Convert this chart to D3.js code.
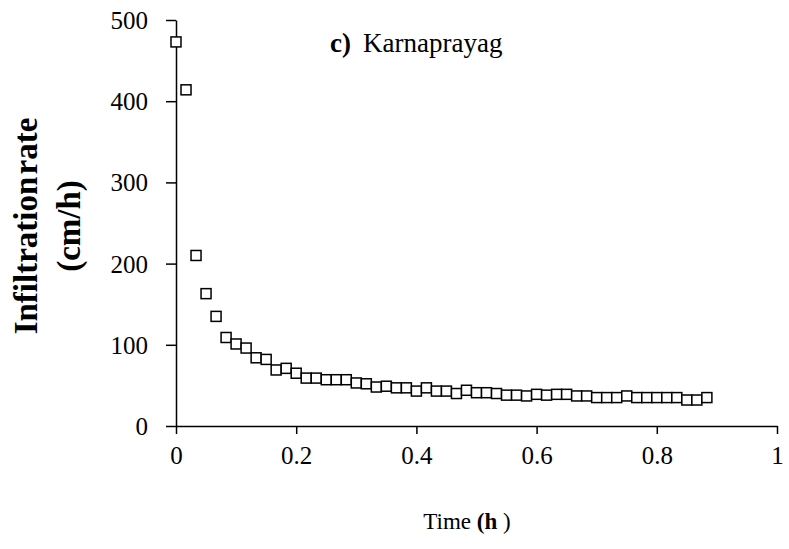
<!DOCTYPE html>
<html lang="en">
<head>
<meta charset="UTF-8">
<script src="https://d3js.org/d3.v7.min.js"></script>
<style>
  body { margin: 0; background: #fff; }
  svg text { font-family: "Liberation Serif", "Times New Roman", serif; fill: #000; }
  .axis path, .axis line { stroke: #000; stroke-width: 1.5; }
</style>
</head>
<body>
<div id="chart"></div>
<script>
  // readings taken once a minute (hours)
  const timeMin = d3.range(0, 54);
  const rate = [473, 414, 210, 163, 135, 109, 101, 96, 84, 82,
                69, 71, 65, 59, 59, 57, 57, 57, 53, 52,
                48, 49, 47, 47, 43, 47, 43, 43, 40, 44,
                41, 41, 40, 38, 38, 37, 39, 38, 39, 39,
                37, 37, 35, 35, 35, 37, 35, 35, 35, 35,
                35, 32, 32, 35];
  const xTicks = [0, 0.2, 0.4, 0.6, 0.8, 1];
  const yTicks = [0, 100, 200, 300, 400, 500];

  const width = 789, height = 549;
  const svg = d3.select("#chart").append("svg")
    .attr("width", width).attr("height", height);

  const x = d3.scaleLinear().domain([0, 1]).range([176, 777]);
  const y = d3.scaleLinear().domain([0, 500]).range([426, 20]);

  const xAxis = svg.append("g").attr("class", "axis")
    .attr("transform", `translate(0,${y(0)})`)
    .call(d3.axisBottom(x).tickValues(xTicks).tickSize(8).tickSizeOuter(0).tickPadding(30)
      .tickFormat(d => d === 0 || d === 1 ? d3.format("d")(d) : d3.format(".1f")(d)));
  xAxis.selectAll("text").attr("font-size", 25).attr("dy", 0);

  const yAxis = svg.append("g").attr("class", "axis")
    .attr("transform", `translate(${x(0)},0)`)
    .call(d3.axisLeft(y).tickValues(yTicks).tickSize(10).tickSizeOuter(0).tickPadding(18));
  yAxis.selectAll("text").attr("font-size", 25).attr("dy", "0.34em");

  // markers
  const s = 10;
  svg.append("g").selectAll("rect")
    .data(timeMin)
    .enter().append("rect")
    .attr("x", i => x(i / 60) - s / 2)
    .attr("y", i => y(rate[i]) - s / 2)
    .attr("width", s).attr("height", s)
    .attr("fill", "#fff")
    .attr("stroke", "#000")
    .attr("stroke-width", 1.5);

  // panel label
  const lab = svg.append("text").attr("x", 330).attr("y", 52).attr("font-size", 27);
  lab.append("tspan").attr("font-weight", "bold").text("c)");
  lab.append("tspan").attr("dx", 12).text("Karnaprayag");

  // axis titles
  const xt = svg.append("text").attr("x", 467).attr("y", 529)
    .attr("text-anchor", "middle").attr("font-size", 23);
  xt.append("tspan").text("Time ");
  xt.append("tspan").attr("font-weight", "bold").text("(h");
  xt.append("tspan").text(" )");

  svg.append("text")
    .attr("transform", "translate(37,226) rotate(-90)")
    .attr("text-anchor", "middle").attr("font-size", 33).attr("font-weight", "bold")
    .attr("word-spacing", -6)
    .text("Infiltration rate");
  svg.append("text")
    .attr("transform", "translate(80,226) rotate(-90)")
    .attr("text-anchor", "middle").attr("font-size", 33).attr("font-weight", "bold")
    .text("(cm/h)");
</script>
</body>
</html>
